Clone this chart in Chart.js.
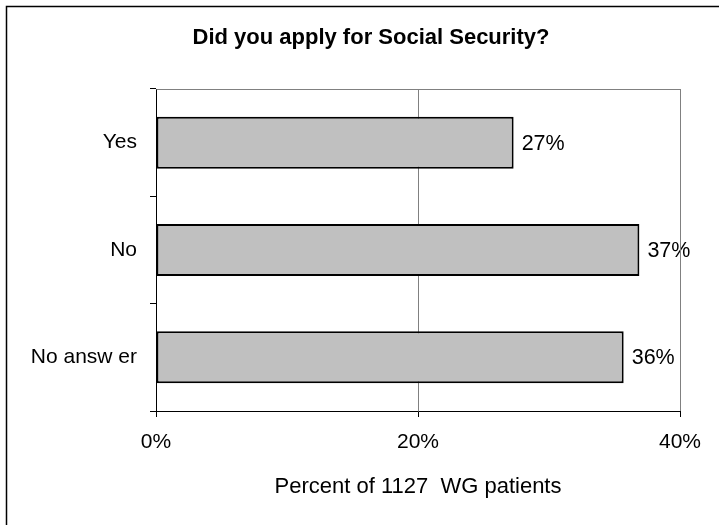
<!DOCTYPE html>
<html>
<head>
<meta charset="utf-8">
<script src="https://cdn.jsdelivr.net/npm/chart.js@4/dist/chart.umd.min.js"></script>
<style>
  html, body { margin: 0; padding: 0; background: #fff; overflow: hidden; }
  #wrap { position: relative; width: 719px; height: 525px; }
</style>
</head>
<body>
<div id="wrap"><canvas id="c"></canvas></div>
<script>
const chartTitle = 'Did you apply for Social Security?';
const categories = ['Yes', 'No', 'No answ er'];
const percentValues = [27.3, 36.9, 35.7];
const xTicks = [0, 20, 40];
const xAxisTitle = 'Percent of 1127  WG patients';

const FONT = "'Liberation Sans', Arial, sans-serif";

const framePlugin = {
  id: 'frame',
  beforeDraw(chart) {
    const ctx = chart.ctx;
    ctx.save();
    ctx.fillStyle = '#fff';
    ctx.fillRect(0, 0, chart.width, chart.height);
    ctx.strokeStyle = '#000';
    ctx.lineWidth = 1.5;
    ctx.beginPath();
    ctx.moveTo(6.5, chart.height + 5);
    ctx.lineTo(6.5, 6.5);
    ctx.lineTo(chart.width + 5, 6.5);
    ctx.stroke();
    // chart title, centred over the chart frame
    ctx.font = 'bold 22px ' + FONT;
    ctx.fillStyle = '#000';
    ctx.textAlign = 'center';
    ctx.textBaseline = 'middle';
    ctx.fillText(chartTitle, 371, 38);
    ctx.restore();
  },
  afterDraw(chart) {
    const a = chart.chartArea;
    const ctx = chart.ctx;
    ctx.save();
    ctx.strokeStyle = '#808080';
    ctx.lineWidth = 1;
    ctx.beginPath();
    ctx.moveTo(Math.round(a.left) + 0.5, Math.round(a.top) + 0.5);
    ctx.lineTo(Math.round(a.right) + 0.5, Math.round(a.top) + 0.5);
    ctx.lineTo(Math.round(a.right) + 0.5, Math.round(a.bottom));
    ctx.stroke();
    ctx.restore();
  }
};

const labelPlugin = {
  id: 'barLabels',
  afterDatasetsDraw(chart) {
    const ctx = chart.ctx;
    const meta = chart.getDatasetMeta(0);
    ctx.save();
    ctx.font = '21.5px ' + FONT;
    ctx.fillStyle = '#000';
    ctx.textAlign = 'left';
    ctx.textBaseline = 'middle';
    meta.data.forEach((bar, i) => {
      ctx.fillText(Math.round(percentValues[i]) + '%', bar.x + 8, bar.y + 1);
    });
    ctx.restore();
  }
};

new Chart(document.getElementById('c'), {
  type: 'bar',
  data: {
    labels: categories,
    datasets: [{
      data: percentValues,
      backgroundColor: '#c0c0c0',
      borderColor: '#000',
      borderWidth: 2,
      borderSkipped: false,
      barPercentage: 0.485,
      categoryPercentage: 1
    }]
  },
  options: {
    indexAxis: 'y',
    responsive: true,
    maintainAspectRatio: false,
    animation: false,
    devicePixelRatio: 1,
    layout: { padding: { left: 0, right: 39, top: 89, bottom: 0 } },
    plugins: {
      legend: { display: false },
      tooltip: { enabled: false },
      title: { display: false }
    },
    scales: {
      x: {
        type: 'linear',
        min: 0,
        max: 40,
        afterBuildTicks(scale) { scale.ticks = xTicks.map(v => ({ value: v })); },
        afterFit(scale) { scale.height = 114; },
        ticks: {
          color: '#000',
          font: { family: FONT, size: 21 },
          padding: 13,
          maxRotation: 0,
          callback: v => v + '%'
        },
        grid: {
          color: ctx => (ctx.tick && ctx.tick.value === 0) ? 'rgba(0,0,0,0)' : '#808080',
          tickColor: '#000',
          tickLength: 6,
          lineWidth: 1
        },
        border: { display: true, color: '#000', width: 1 },
        title: {
          display: true,
          text: xAxisTitle,
          color: '#000',
          font: { family: FONT, size: 22, lineHeight: 1.2 },
          padding: { top: 0, bottom: 25 }
        }
      },
      y: {
        afterFit(scale) { scale.width = 156; },
        ticks: {
          color: '#000',
          font: { family: FONT, size: 21 },
          padding: 13
        },
        grid: {
          offset: true,
          drawOnChartArea: false,
          tickColor: '#000',
          tickLength: 6,
          lineWidth: 1
        },
        border: { display: true, color: '#000', width: 1 }
      }
    }
  },
  plugins: [framePlugin, labelPlugin]
});
</script>
</body>
</html>
